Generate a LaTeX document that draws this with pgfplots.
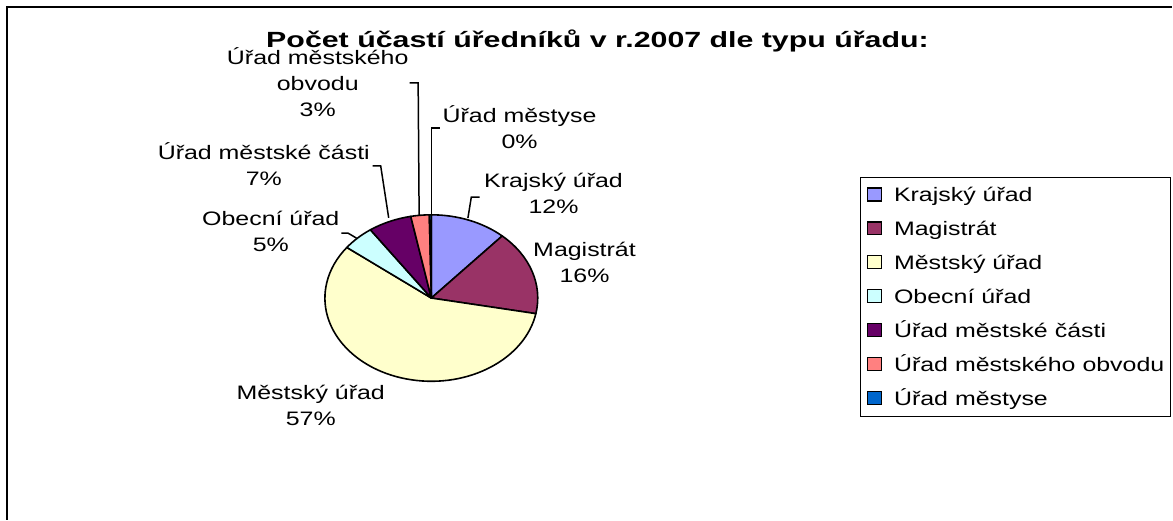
\documentclass[border=0pt]{standalone}
\usepackage{fontspec}
\setmainfont{Liberation Sans}[FakeStretch=1.28]
\newfontfamily\titlefont{Liberation Sans}[FakeStretch=1.38]
\usepackage{pgfplots}
\usepackage{pgfplotstable}
\pgfplotsset{compat=1.18}
\definecolor{cKraj}{RGB}{153,153,255}
\definecolor{cMag}{RGB}{153,51,102}
\definecolor{cMest}{RGB}{255,255,204}
\definecolor{cObec}{RGB}{204,255,255}
\definecolor{cCast}{RGB}{102,0,102}
\definecolor{cObv}{RGB}{255,128,128}
\definecolor{cMtys}{RGB}{0,102,204}
\tikzset{lbl/.style={align=center, font=\fontsize{19.5}{26}\selectfont, inner sep=0pt}}
\pgfplotstableread{
name value col
Krajsky 11.6 cKraj
Magistrat 16.4 cMag
Mestsky 57.4 cMest
Obecni 4.9 cObec
Casti 6.6 cCast
Obvodu 2.8 cObv
Mestyse 0.3 cMtys
}\piedata
\begin{document}
\begin{tikzpicture}
\begin{axis}[
  width=1173pt, height=520pt, scale only axis,
  xmin=0, xmax=1173, ymin=0, ymax=520,
  hide axis, clip=false,
  legend cell align=left,
  legend style={at={(axis cs:861,343)}, anchor=north west, draw=black, line width=1.2pt, fill=white,
    font=\fontsize{19.5}{19.5}\selectfont, inner xsep=6pt, inner ysep=9.5pt, row sep=18pt, column sep=0pt,
    nodes={inner sep=0pt, text height=15pt, text depth=1pt}},
  legend image code/.code={\filldraw[#1, draw=black, line width=1.2pt] (0pt,-6pt) rectangle (14pt,7pt); \path (26pt,0pt);},
]
\path (axis cs:0,0) rectangle (axis cs:1173,520);
\pgfplotstablegetrowsof{\piedata}
\pgfmathtruncatemacro{\nrows}{\pgfplotsretval-1}
\def\cum{0}
\pgfplotsforeachungrouped \i in {0,...,\nrows}{%
  \pgfplotstablegetelem{\i}{value}\of\piedata \let\v=\pgfplotsretval
  \pgfplotstablegetelem{\i}{col}\of\piedata \let\c=\pgfplotsretval
  \pgfmathsetmacro{\a}{90-3.6*\cum}%
  \pgfmathsetmacro{\b}{90-3.6*(\cum+\v)}%
  \edef\temp{\noexpand\filldraw[fill=\c, draw=black, line width=1.6pt, line join=round] (axis cs:431.7,221.7) -- ++(\a:106.5pt and 83.3pt) arc[start angle=\a, end angle=\b, x radius=106.5pt, y radius=83.3pt] -- cycle;}%
  \temp
  \pgfmathsetmacro{\cum}{\cum+\v}%
}
\addlegendimage{fill=cKraj}\addlegendentry{Krajský úřad}
\addlegendimage{fill=cMag}\addlegendentry{Magistrát}
\addlegendimage{fill=cMest}\addlegendentry{Městský úřad}
\addlegendimage{fill=cObec}\addlegendentry{Obecní úřad}
\addlegendimage{fill=cCast}\addlegendentry{Úřad městské části}
\addlegendimage{fill=cObv}\addlegendentry{Úřad městského obvodu}
\addlegendimage{fill=cMtys}\addlegendentry{Úřad městyse}
% leader lines
\draw[line width=1.5pt] (axis cs:468.3,301.7) -- (axis cs:471.7,322.7) -- (axis cs:480,322.7);
\draw[line width=1.5pt] (axis cs:341.7,286.7) -- (axis cs:348.3,286.7) -- (axis cs:356.7,281.7);
\draw[line width=1.5pt] (axis cs:373,354) -- (axis cs:381,354) -- (axis cs:389,302);
\draw[line width=1.5pt] (axis cs:410,437) -- (axis cs:418.5,437) -- (axis cs:419.5,304);
\draw[line width=1.5pt] (axis cs:440,391.7) -- (axis cs:431.7,391.7) -- (axis cs:431.7,305);
% labels
\node[lbl] at (axis cs:318,438) {Úřad městského\\obvodu\\3\%};
\node[lbl] at (axis cs:264,356) {Úřad městské části\\7\%};
\node[lbl] at (axis cs:520,392.5) {Úřad městyse\\0\%};
\node[lbl] at (axis cs:554,326.6) {Krajský úřad\\12\%};
\node[lbl] at (axis cs:585,257) {Magistrát\\16\%};
\node[lbl] at (axis cs:271,288.5) {Obecní úřad\\5\%};
\node[lbl] at (axis cs:311,114.5) {Městský úřad\\57\%};
\node[anchor=base, inner sep=0pt, font=\titlefont\bfseries\fontsize{22}{26}\selectfont] at (axis cs:598,472) {Počet účastí úředníků v r.2007 dle typu úřadu:};
% chart area frame
\draw[line width=2pt] (axis cs:7,0) -- (axis cs:7,513) -- (axis cs:1173,513);
\end{axis}
\end{tikzpicture}
\end{document}
